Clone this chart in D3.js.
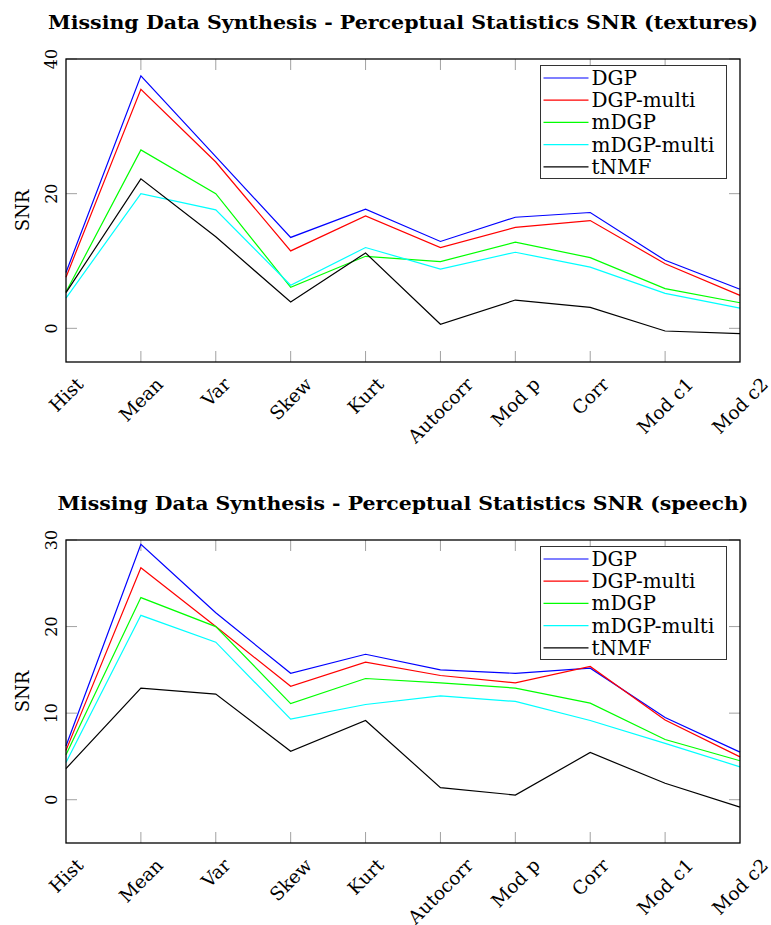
<!DOCTYPE html>
<html>
<head>
<meta charset="utf-8">
<script src="https://cdn.jsdelivr.net/npm/d3@7"></script>
<style>
  html, body { margin: 0; padding: 0; background: #fff; }
  svg { display: block; }
  text { font-family: "DejaVu Serif", serif; fill: #000; }
</style>
</head>
<body>
<svg id="chart" width="771" height="925"></svg>
<script>
// Perceptual statistics on the x axis
const categories = ["Hist", "Mean", "Var", "Skew", "Kurt", "Autocorr", "Mod p", "Corr", "Mod c1", "Mod c2"];
const seriesNames = ["DGP", "DGP-multi", "mDGP", "mDGP-multi", "tNMF"];
const seriesColors = ["#0000ff", "#ff0000", "#00ff00", "#00ffff", "#000000"];

// SNR per statistic, textures
const texturesDGP       = [8.3, 37.5, 25.5, 13.5, 17.7, 12.9, 16.5, 17.2, 10.1, 5.8];
const texturesDGPmulti  = [7.6, 35.5, 24.7, 11.5, 16.7, 12.0, 15.0, 16.0, 9.6, 4.9];
const texturesmDGP      = [5.4, 26.5, 20.0, 6.1, 10.7, 9.9, 12.8, 10.5, 5.9, 3.8];
const texturesmDGPmulti = [4.5, 20.0, 17.6, 6.4, 12.0, 8.8, 11.3, 9.1, 5.2, 3.0];
const texturestNMF      = [5.3, 22.2, 13.6, 3.9, 11.2, 0.6, 4.2, 3.1, -0.4, -0.8];

// SNR per statistic, speech
const speechDGP       = [6.2, 29.5, 21.6, 14.6, 16.8, 15.0, 14.6, 15.2, 9.5, 5.5];
const speechDGPmulti  = [5.7, 26.8, 20.0, 13.1, 15.9, 14.35, 13.5, 15.4, 9.2, 4.95];
const speechmDGP      = [5.2, 23.35, 20.0, 11.1, 14.0, 13.5, 12.9, 11.15, 6.95, 4.5];
const speechmDGPmulti = [4.3, 21.3, 18.2, 9.3, 11.0, 12.0, 11.35, 9.15, 6.5, 3.8];
const speechtNMF      = [3.6, 12.9, 12.2, 5.6, 9.15, 1.4, 0.54, 5.45, 1.9, -0.85];

const texturesYTicks = [0, 20, 40];
const speechYTicks = [0, 10, 20, 30];

const panels = [
  {
    title: "Missing Data Synthesis - Perceptual Statistics SNR (textures)",
    series: [texturesDGP, texturesDGPmulti, texturesmDGP, texturesmDGPmulti, texturestNMF],
    domain: [-5, 40], ticks: texturesYTicks,
    top: 59, bottom: 362, titleLen: 710
  },
  {
    title: "Missing Data Synthesis - Perceptual Statistics SNR (speech)",
    series: [speechDGP, speechDGPmulti, speechmDGP, speechmDGPmulti, speechtNMF],
    domain: [-5, 30], ticks: speechYTicks,
    top: 540, bottom: 843, titleLen: 691
  }
];

const svg = d3.select("#chart");
const left = 66, right = 740;
const tickLen = 11;

panels.forEach(p => {
  const g = svg.append("g");
  const x = d3.scalePoint().domain(categories).range([left, right]).padding(0);
  const y = d3.scaleLinear().domain(p.domain).range([p.bottom, p.top]);

  // title
  g.append("text")
    .attr("x", (left + right) / 2)
    .attr("y", p.top - 30.5)
    .attr("text-anchor", "middle")
    .attr("font-weight", "bold")
    .attr("font-size", 18.5)
    .attr("textLength", p.titleLen)
    .attr("lengthAdjust", "spacingAndGlyphs")
    .text(p.title);

  // inner tick marks on all four sides
  const ticksG = g.append("g").attr("stroke", "#8a8a8a").attr("stroke-width", 0.8);
  categories.slice(1, -1).forEach(c => {
    ticksG.append("line").attr("x1", x(c)).attr("x2", x(c)).attr("y1", p.bottom).attr("y2", p.bottom - tickLen);
    ticksG.append("line").attr("x1", x(c)).attr("x2", x(c)).attr("y1", p.top).attr("y2", p.top + tickLen);
  });
  p.ticks.forEach(t => {
    ticksG.append("line").attr("x1", left).attr("x2", left + tickLen).attr("y1", y(t)).attr("y2", y(t));
    ticksG.append("line").attr("x1", right).attr("x2", right - tickLen).attr("y1", y(t)).attr("y2", y(t));
  });

  // series lines
  const line = d3.line().x((d, i) => x(categories[i])).y(d => y(d));
  p.series.forEach((s, k) => {
    g.append("path")
      .datum(s)
      .attr("d", line)
      .attr("fill", "none")
      .attr("stroke", seriesColors[k])
      .attr("stroke-width", 1.2)
      .attr("stroke-linejoin", "miter");
  });

  // frame
  g.append("rect")
    .attr("x", left).attr("y", p.top)
    .attr("width", right - left).attr("height", p.bottom - p.top)
    .attr("fill", "none").attr("stroke", "#000").attr("stroke-width", 1.3);

  // y tick labels, rotated
  p.ticks.forEach(t => {
    g.append("text")
      .attr("transform", `translate(57,${y(t)}) rotate(-90)`)
      .attr("text-anchor", "middle")
      .attr("font-size", 16)
      .text(t);
  });

  // y axis title
  g.append("text")
    .attr("transform", `translate(29,${(p.top + p.bottom) / 2}) rotate(-90)`)
    .attr("text-anchor", "middle")
    .attr("font-size", 18)
    .text("SNR");

  // x tick labels, rotated 45 degrees, centred under each tick
  const fs = 18.5;
  categories.forEach(c => {
    const t = g.append("text")
      .attr("text-anchor", "middle")
      .attr("font-size", fs)
      .attr("dy", "0.36em")
      .text(c);
    const w = t.node().getComputedTextLength();
    const h = (w + 0.73 * fs) / Math.SQRT2;
    t.attr("transform", `translate(${x(c)},${p.bottom + 14 + h / 2}) rotate(-45)`);
  });

  // legend
  const lg = g.append("g").attr("transform", `translate(540.5,${p.top + 6.5})`);
  lg.append("rect")
    .attr("width", 186).attr("height", 113)
    .attr("fill", "#fff").attr("stroke", "#333").attr("stroke-width", 1);
  seriesNames.forEach((n, k) => {
    const yy = 12.5 + k * 22.2;
    lg.append("line")
      .attr("x1", 3).attr("x2", 48).attr("y1", yy).attr("y2", yy)
      .attr("stroke", seriesColors[k]).attr("stroke-width", 1.2);
    lg.append("text")
      .attr("x", 51).attr("y", yy + 7)
      .attr("font-size", 20)
      .text(n);
  });
});
</script>
</body>
</html>
